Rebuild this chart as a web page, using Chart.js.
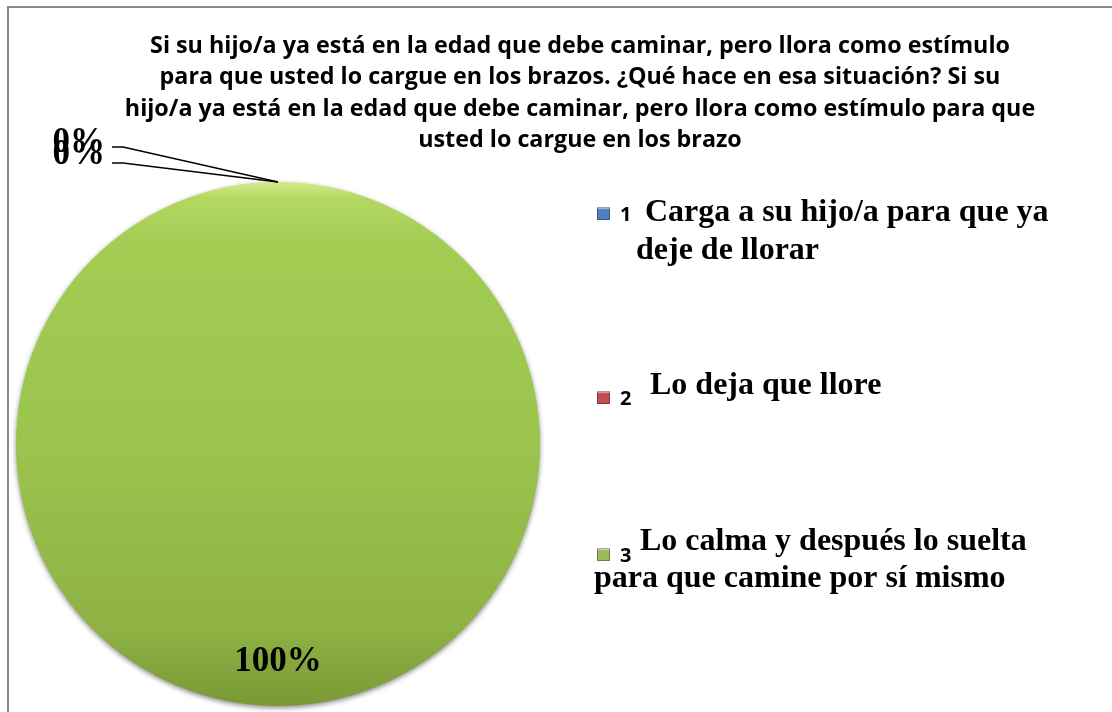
<!DOCTYPE html>
<html><head><meta charset="utf-8">
<script src="https://cdn.jsdelivr.net/npm/chart.js@4/dist/chart.umd.min.js"></script>
<style>html,body{margin:0;padding:0;background:#fff;overflow:hidden}canvas{display:block}</style>
</head><body>
<canvas id="c" width="1112" height="712" style="width:1112px;height:712px"></canvas>
<script>
const titleLines = [
  'Si su hijo/a ya está en la edad que debe caminar, pero llora como estímulo',
  'para que usted lo cargue en los brazos. ¿Qué hace en esa situación? Si su',
  'hijo/a ya está en la edad que debe caminar, pero llora como estímulo para que',
  'usted lo cargue en los brazo'
];
const categories = ['1', '2', '3'];
const legendLines = [
  ['Carga a su hijo/a para que ya', 'deje de llorar'],
  ['Lo deja que llore'],
  ['Lo calma y después lo suelta', 'para que camine por sí mismo']
];
const values = [0, 0, 100];
const valueLabels = ['0%', '0%', '100%'];
const colors = ['#4f81bd', '#c0504d', '#9bbb59'];

function pieFill(ctx) {
  const chart = ctx.chart; const a = chart.chartArea;
  if (!a) return colors[ctx.dataIndex];
  const i = ctx.dataIndex;
  const c = chart.ctx;
  const g = c.createLinearGradient(0, a.top, 0, a.bottom);
  if (i === 2) {
    g.addColorStop(0, '#d4ec8a');
    g.addColorStop(0.03, '#b3d862');
    g.addColorStop(0.12, '#a3cc53');
    g.addColorStop(0.5, '#9bc44d');
    g.addColorStop(0.85, '#8eb244');
    g.addColorStop(1, '#7a9936');
  } else {
    g.addColorStop(0, colors[i]); g.addColorStop(1, colors[i]);
  }
  return g;
}

const deco = {
  id: 'deco',
  beforeDatasetsDraw(chart) {
    const c = chart.ctx;
    c.save();
    c.shadowColor = 'rgba(0,0,0,0.45)';
    c.shadowBlur = 5;
    c.shadowOffsetX = 0;
    c.shadowOffsetY = 2;
  },
  afterDatasetsDraw(chart) {
    const c = chart.ctx;
    c.restore();
    const meta = chart.getDatasetMeta(0);
    const zeroY = [147, 163];
    let k = 0;
    meta.data.forEach((arc, i) => {
      const p = arc.getProps(['x', 'y', 'startAngle', 'endAngle', 'outerRadius'], true);
      c.save();
      c.fillStyle = '#000';
      if (values[i] === 0) {
        const ex = p.x + p.outerRadius * Math.cos(p.startAngle);
        const ey = p.y + p.outerRadius * Math.sin(p.startAngle);
        const ly = zeroY[k];
        c.strokeStyle = '#000'; c.lineWidth = 1.3;
        c.beginPath(); c.moveTo(ex, ey); c.lineTo(123, ly); c.lineTo(112, ly); c.stroke();
        c.font = 'bold 35px "Liberation Serif", "Times New Roman", serif';
        c.textAlign = 'right'; c.textBaseline = 'middle';
        c.fillText(valueLabels[i], 105, ly - 4 - k * 4);
        k++;
      } else {
        const mid = (p.startAngle + p.endAngle) / 2;
        const r = p.outerRadius * 0.83;
        c.font = 'bold 35px "Liberation Serif", "Times New Roman", serif';
        c.textAlign = 'center'; c.textBaseline = 'middle';
        c.fillText(valueLabels[i], p.x + r * Math.cos(mid), p.y + r * Math.sin(mid));
      }
      c.restore();
    });
  },
  afterDraw(chart) {
    const c = chart.ctx;
    c.save();
    // frame
    c.strokeStyle = '#8a8a8a'; c.lineWidth = 2;
    c.strokeRect(8, 7, 1200, 800);
    // title
    c.fillStyle = '#000';
    c.textAlign = 'center'; c.textBaseline = 'middle';
    const fam = '"Open Sans", "Noto Sans", sans-serif';
    c.font = 'bold 18px ' + fam;
    const w = c.measureText(titleLines[0]).width;
    const fs = 18 * 860 / w;
    c.font = 'bold ' + fs.toFixed(2) + 'px ' + fam;
    const ty = [46, 77, 109, 140];
    titleLines.forEach((t, i) => c.fillText(t, 580, ty[i]));
    // legend
    const markY = [207, 391, 548];
    const numY = [221, 405, 562];
    const lineX = [[645, 636], [650], [640, 594]];
    const lineY = [[221, 259], [394], [550, 587]];
    categories.forEach((cat, i) => {
      const mx = 597, my = markY[i], s = 13;
      const g = c.createLinearGradient(mx, my, mx, my + s);
      g.addColorStop(0, '#ffffff'); g.addColorStop(0.2, colors[i]); g.addColorStop(1, colors[i]);
      c.fillStyle = g;
      c.fillRect(mx, my, s, s);
      c.strokeStyle = 'rgba(0,0,0,0.3)'; c.lineWidth = 1;
      c.strokeRect(mx + 0.5, my + 0.5, s - 1, s - 1);
      c.fillStyle = '#000';
      c.textAlign = 'left'; c.textBaseline = 'alphabetic';
      c.font = 'bold 20px "Open Sans", "Noto Sans", sans-serif';
      c.fillText(cat, 620, numY[i]);
      c.font = 'bold 32px "Liberation Serif", "Times New Roman", serif';
      legendLines[i].forEach((t, j) => c.fillText(t, lineX[i][j], lineY[i][j]));
    });
    c.restore();
  }
};

new Chart(document.getElementById('c'), {
  type: 'pie',
  data: {
    labels: categories,
    datasets: [{
      data: values,
      backgroundColor: pieFill,
      borderWidth: 0
    }]
  },
  options: {
    responsive: false,
    devicePixelRatio: 1,
    animation: false,
    layout: { padding: { left: 16, top: 182, right: 572, bottom: 6 } },
    plugins: {
      legend: { display: false },
      tooltip: { enabled: false },
      title: { display: false }
    }
  },
  plugins: [deco]
});
</script>
</body></html>
